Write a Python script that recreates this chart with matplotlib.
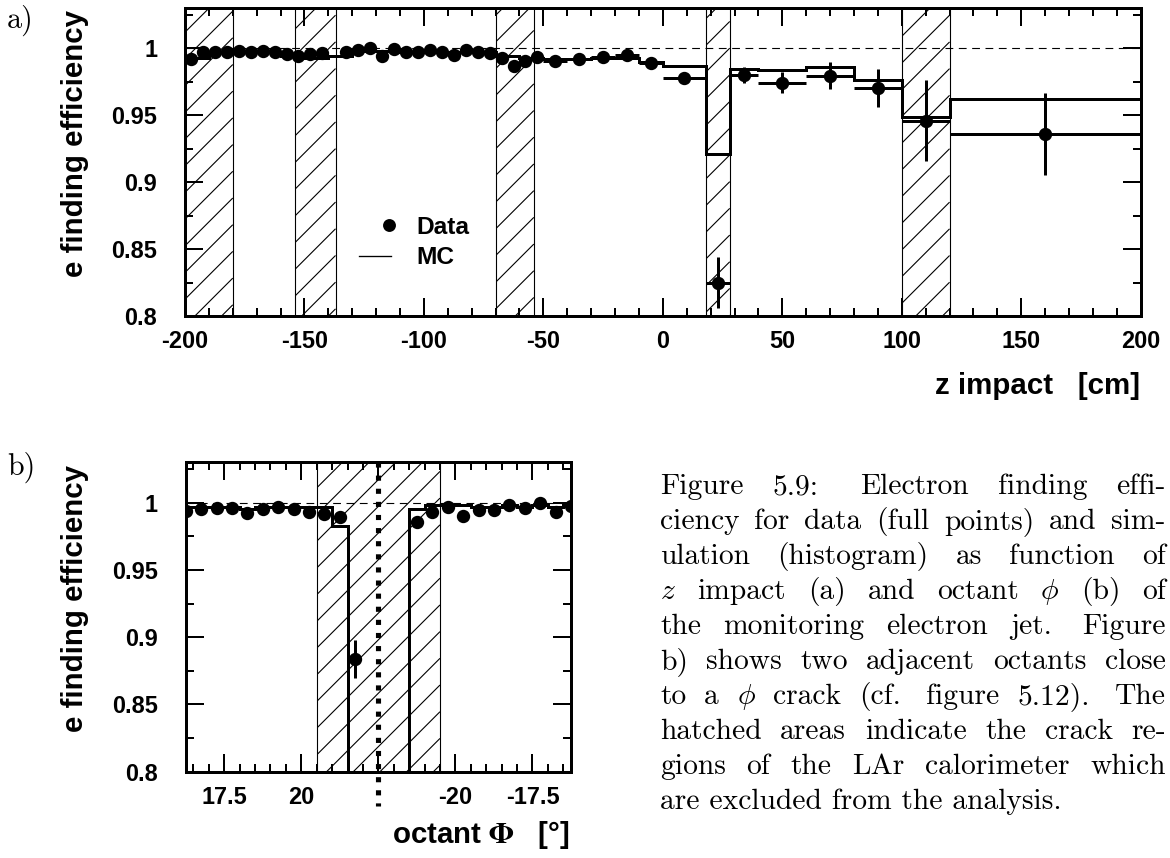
import matplotlib
matplotlib.use('Agg')
import matplotlib.pyplot as plt
import numpy as np
from matplotlib.lines import Line2D
from matplotlib.collections import LineCollection
from matplotlib.transforms import IdentityTransform
from matplotlib.legend_handler import HandlerLine2DCompound
from matplotlib.ticker import MultipleLocator, FixedLocator, FixedFormatter, FuncFormatter

# ---------------- data: panel a) (z impact) ----------------
data_z = [-197.5, -192.5, -187.5, -182.5, -177.5, -172.5, -167.5, -162.5, -157.5,
          -152.5, -147.5, -142.5, -132.5, -127.5, -122.5, -117.5, -112.5, -107.5,
          -102.5, -97.5, -92.5, -87.5, -82.5, -77.5, -72.5, -67.5, -62.5, -57.5,
          -52.5, -45, -35, -25, -15, -5, 9, 23, 34, 50, 70, 90, 110, 160]
data_eff = [0.992, 0.9976, 0.9976, 0.9976, 0.998, 0.9976, 0.998, 0.9976, 0.996,
            0.9944, 0.9955, 0.9963, 0.9976, 0.999, 1.000, 0.994, 0.9993, 0.9976,
            0.997, 0.9985, 0.9976, 0.9951, 0.9985, 0.9976, 0.9963, 0.993, 0.9866,
            0.9907, 0.9934, 0.9907, 0.992, 0.9934, 0.9951, 0.9894, 0.9777, 0.8249,
            0.9802, 0.9744, 0.9797, 0.9707, 0.946, 0.936]
data_zerr = [2.5] * 29 + [5, 5, 5, 5, 5, 9, 5, 6, 10, 10, 10, 10, 40]
data_efferr = [0.002] * 29 + [0.002, 0.002, 0.002, 0.002, 0.002, 0.003, 0.019,
                              0.006, 0.0077, 0.010, 0.0143, 0.0303, 0.0305]

mc_z_edges = [-200, -190, -180, -170, -160, -150, -140, -130, -120, -110, -100, -90,
              -80, -70, -60, -50, -40, -30, -20, -10, 0, 18, 28, 40, 60, 80, 100,
              120, 200]
mc_z_eff = [0.993, 0.997, 0.997, 0.997, 0.994, 0.993, 0.994, 0.998, 0.998, 0.997,
            0.997, 0.997, 0.997, 0.994, 0.993, 0.992, 0.992, 0.993, 0.993, 0.990,
            0.987, 0.921, 0.985, 0.984, 0.986, 0.9765, 0.9485, 0.962]

crack_z = [(-200, -180), (-154, -137), (-70, -54), (18, 28), (100, 120)]

# ---------------- data: panel b) (octant phi) ----------------
data_phi = [16.25, 16.75, 17.25, 17.75, 18.25, 18.75, 19.25, 19.75, 20.25, 20.75,
            21.25, 21.75, 23.75, 24.25, 24.75, 25.25, 25.75, 26.25, 26.75, 27.25,
            27.75, 28.25, 28.75]
data_phi_eff = [0.9938, 0.995, 0.9963, 0.9963, 0.992, 0.995, 0.997, 0.995, 0.9933,
                0.9914, 0.9896, 0.8838, 0.9859, 0.9928, 0.997, 0.9901, 0.9946,
                0.9946, 0.9983, 0.9958, 1.000, 0.9933, 0.9978]
data_phi_err = [0.002] * 11 + [0.014, 0.004] + [0.002] * 10

mc_phi_edges = [16.0, 16.5, 17.0, 17.5, 18.0, 18.5, 19.0, 19.5, 20.0, 20.5, 21.0,
                21.5, 22.0, 22.5, 23.0, 23.5, 24.0, 24.5, 25.0, 25.5, 26.0, 26.5,
                27.0, 27.5, 28.0, 28.5, 29.0]
mc_phi_eff = [0.997, 0.997, 0.997, 0.997, 0.9955, 0.997, 0.997, 0.997, 0.997, 0.9965,
              0.983, 0.0, 0.0, 0.0, 0.0, 0.9953, 0.998, 0.998, 0.998, 0.997, 0.997,
              0.998, 0.997, 0.998, 0.997, 0.998]

crack_phi = [(20.5, 24.5)]
phi_crack_line = 22.5
phi_ticks = [17.5, 20, 22.5, 25, 27.5]
phi_ticklabels = ['17.5', '20', '', '-20', '-17.5']

caption_lines = [
    "Figure 5.9:  Electron finding effi-",
    "ciency for data (full points) and sim-",
    "ulation (histogram) as function of",
    "$z$ impact (a) and octant $\\phi$ (b) of",
    "the monitoring electron jet. Figure",
    "b) shows two adjacent octants close",
    "to a $\\phi$ crack (cf. figure 5.12). The",
    "hatched areas indicate the crack re-",
    "gions of the LAr calorimeter which",
    "are excluded from the analysis.",
]

# ---------------- style ----------------
plt.rcParams.update({
    'font.family': ['Liberation Sans', 'DejaVu Sans'],
    'font.weight': 'bold',
    'mathtext.fontset': 'cm',
    'lines.scale_dashes': False,
    'axes.linewidth': 1.35,
    'axes.unicode_minus': False,
})

W, H, DPI = 1170, 858, 160
fig = plt.figure(figsize=(W / DPI, H / DPI), dpi=DPI)
fig.patch.set_facecolor('white')


def fx(px):
    return px / W


def fy(py):
    return 1 - py / H


ax1 = fig.add_axes([fx(185), fy(316), fx(1140.7) - fx(185), fy(8.3) - fy(316)])
ax2 = fig.add_axes([fx(185.7), fy(771.7), fx(571) - fx(185.7), fy(462.3) - fy(771.7)])


def style(ax):
    ax.tick_params(which='both', direction='in', top=True, right=True,
                   labelsize=10.6, width=0.9, colors='k')
    ax.tick_params(which='major', length=8)
    ax.tick_params(which='minor', length=3.6)
    ax.tick_params(axis='y', pad=12.5)
    ax.tick_params(axis='x', pad=6.5)
    ax.set_ylim(0.8, 1.03)
    ax.yaxis.set_major_locator(MultipleLocator(0.05))
    ax.yaxis.set_minor_locator(MultipleLocator(0.025))
    ax.yaxis.set_major_formatter(FuncFormatter(lambda v, p: f'{v:g}'))
    ax.axhline(1.0, color='k', lw=0.5, ls=(0, (3.5, 2.5)), zorder=1)


def hatch_spans(ax, spans, spacing=26.7):
    """Hatched crack regions: outlined span + 45 degree lines clipped to it."""
    for x0, x1 in spans:
        rect = ax.axvspan(x0, x1, facecolor='none', edgecolor='k', lw=0.5, zorder=0.5)
        xa = ax.transData.transform((x0, 0))[0]
        xb = ax.transData.transform((x1, 0))[0]
        ya, yb = ax.bbox.y0, ax.bbox.y1
        c0 = np.floor((ya - xb) / spacing) * spacing
        cs = np.arange(c0, yb - xa + spacing, spacing)
        segs = [[(xa, xa + c), (xb, xb + c)] for c in cs]
        lc = LineCollection(segs, colors='k', linewidths=0.5,
                            transform=IdentityTransform(), zorder=0.5)
        ax.add_collection(lc, autolim=False)
        lc.set_clip_path(rect)


class RightMarkerHandler(HandlerLine2DCompound):
    def get_xdata(self, legend, xdescent, ydescent, width, height, fontsize):
        xdata, _ = super().get_xdata(legend, xdescent, ydescent, width, height, fontsize)
        return xdata, [-xdescent + 0.94 * width]


# ---------------- panel a ----------------
style(ax1)
ax1.set_xlim(-200, 200)
ax1.xaxis.set_major_locator(MultipleLocator(50))
ax1.xaxis.set_minor_locator(MultipleLocator(10))
hatch_spans(ax1, crack_z)
ax1.stairs(mc_z_eff, mc_z_edges, color='k', lw=1.35, baseline=None, zorder=3)
ax1.errorbar(data_z, data_eff, xerr=data_zerr, yerr=data_efferr, fmt='o', color='k',
             ms=5, elinewidth=1.35, capsize=0, zorder=4)

h_data = Line2D([], [], marker='o', ls='none', color='k', ms=4.8)
h_mc = Line2D([], [], color='k', lw=0.6)
ax1.legend([h_data, h_mc], ['Data', 'MC'], loc='upper left',
           bbox_to_anchor=(0.182, 0.325), frameon=False, borderpad=0,
           borderaxespad=0, handlelength=1.3, handletextpad=1.05,
           labelspacing=0.3, fontsize=11,
           handler_map={h_data: RightMarkerHandler(numpoints=1)})

# ---------------- panel b ----------------
style(ax2)
ax2.set_xlim(16.25, 28.75)
ax2.xaxis.set_major_locator(FixedLocator(phi_ticks))
ax2.xaxis.set_major_formatter(FixedFormatter(phi_ticklabels))
ax2.xaxis.set_minor_locator(MultipleLocator(0.5))
hatch_spans(ax2, crack_phi)
ax2.stairs(mc_phi_eff, mc_phi_edges, color='k', lw=1.35, baseline=None, zorder=3)
ax2.errorbar(data_phi, data_phi_eff, yerr=data_phi_err, fmt='o', color='k',
             ms=5, elinewidth=1.35, capsize=0, zorder=4)
ax2.plot([phi_crack_line, phi_crack_line], [1.0, -0.11],
         transform=ax2.get_xaxis_transform(), clip_on=False, color='k', lw=2.3,
         ls=(0, (2.3, 3.6)), dash_capstyle='butt', zorder=5)

# ---------------- labels ----------------
fig.text(fx(75), fy(10), 'e finding efficiency', rotation=90, ha='center', va='top',
         fontsize=13.3)
fig.text(fx(75), fy(465), 'e finding efficiency', rotation=90, ha='center', va='top',
         fontsize=13.3)
fig.text(fx(1140), fy(386), 'z impact   [cm]', ha='right', va='center', fontsize=13.3)
fig.text(fx(570), fy(835), 'octant $\\Phi$   [°]', ha='right', va='center',
         fontsize=13.3, math_fontfamily='stix')

fig.text(fx(7), fy(20), 'a)', family='cmr10', weight='normal', fontsize=13.5,
         ha='left', va='center')
fig.text(fx(7), fy(467), 'b)', family='cmr10', weight='normal', fontsize=13.5,
         ha='left', va='center')

# ---------------- justified caption ----------------
fig.canvas.draw()
renderer = fig.canvas.get_renderer()
cap_left, cap_right = 660, 1166
cap_fs = 13.3
for i, line in enumerate(caption_lines):
    ybase = fy(494 + 35 * i)
    if i == len(caption_lines) - 1:
        fig.text(fx(cap_left), ybase, line, family='cmr10', weight='normal',
                 fontsize=cap_fs, ha='left', va='baseline')
        continue
    words = line.split()
    texts = [fig.text(0, ybase, w, family='cmr10', weight='normal', fontsize=cap_fs,
                      ha='left', va='baseline') for w in words]
    widths = [t.get_window_extent(renderer).width for t in texts]
    weights = []
    for w in words[:-1]:
        weights.append(1.4 if (w.endswith(':') or (w.endswith('.') and w != 'cf.')) else 1.0)
    gap_unit = (cap_right - cap_left - sum(widths)) / sum(weights)
    x = cap_left
    for k, (t, wd) in enumerate(zip(texts, widths)):
        t.set_x(fx(x))
        if k < len(weights):
            x += wd + gap_unit * weights[k]

fig.savefig('out.png', dpi=DPI, facecolor='white')
